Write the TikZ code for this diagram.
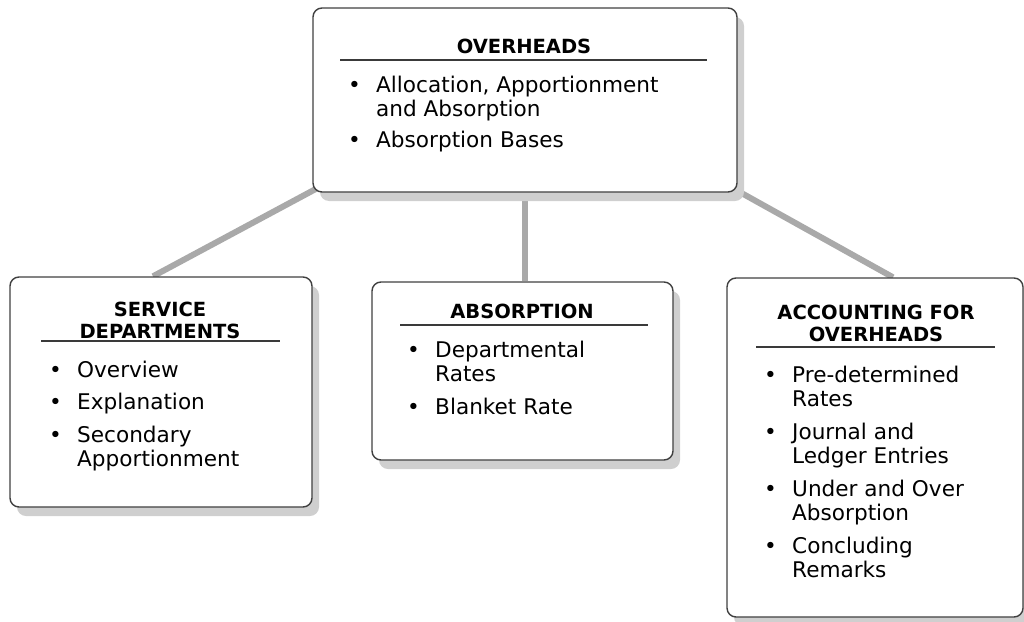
\documentclass[tikz,border=0pt]{standalone}
\usepackage{fontspec}
\setmainfont{DejaVu Sans}
\usetikzlibrary{positioning, shadows, backgrounds}
\usepackage{xcolor}
\definecolor{BoxBorder}{HTML}{404040}
\definecolor{LinkGrey}{HTML}{A9A9A9}
\definecolor{ShadeGrey}{HTML}{CFCFCF}
\definecolor{RuleGrey}{HTML}{3A3A3A}
\newcommand{\bl}{\makebox[28pt][l]{\textbullet}}
\newcommand{\ind}{\hspace*{28pt}}
\tikzset{
    % Box styles - rounded corners with shadow
    topicbox/.style={
        rectangle,
        rounded corners=9pt,
        draw=BoxBorder,
        fill=white,
        line width=1.4pt,
        inner sep=0pt,
        drop shadow={fill=ShadeGrey, opacity=1, shadow xshift=7pt, shadow yshift=-9pt}
    },
    % Text styles (anchored at the baseline of the last line)
    heading/.style={
        font=\fontsize{19.5}{21.5}\selectfont\bfseries,
        align=center,
        anchor=base,
        inner sep=0pt
    },
    points/.style={
        font=\fontsize{21.6}{24.5}\selectfont,
        align=left,
        anchor=base west,
        inner sep=0pt
    },
    % Line styles
    underline/.style={
        draw=RuleGrey,
        line width=1.3pt
    },
    link/.style={
        draw=LinkGrey,
        line width=6pt
    }
}
\begin{document}
\begin{tikzpicture}[x=1pt, y=-1pt]
    \useasboundingbox (0,0) rectangle (1024,621);

    \node[topicbox, minimum width=424pt, minimum height=184pt] (overheads) at (525,100) {};
    \node[topicbox, minimum width=302pt, minimum height=230pt] (service) at (161,392) {};
    \node[topicbox, minimum width=301pt, minimum height=178pt] (absorption) at (522.5,371) {};
    \node[topicbox, minimum width=296pt, minimum height=339pt] (accounting) at (875,447.5) {};

    \begin{scope}[on background layer]
        \draw[link] ([xshift=4pt,yshift=4pt]overheads.south west) -- ([xshift=-8pt]service.north);
        \draw[link] (overheads.south) -- (overheads.south |- absorption.north);
        \draw[link] ([xshift=-4pt,yshift=4pt]overheads.south east) -- ([xshift=18pt]accounting.north);
    \end{scope}

    % top box
    \node[heading] (overheads-title) at (524,53) {OVERHEADS};
    \draw[underline] (340,60) -- (707,60);
    \node[points] (overheads-list) at (348,147) {\bl Allocation, Apportionment\\ \ind and Absorption\\[6pt] \bl Absorption Bases};

    % left box
    \node[heading] (service-title) at (160,338) {SERVICE\\DEPARTMENTS};
    \draw[underline] (41,341) -- (280,341);
    \node[points] (service-list) at (49,466.5) {\bl Overview\\[8pt] \bl Explanation\\[8pt] \bl Secondary\\ \ind Apportionment};

    % middle box
    \node[heading] (absorption-title) at (522,318) {ABSORPTION};
    \draw[underline] (400,325) -- (648,325);
    \node[points] (absorption-list) at (407,414) {\bl Departmental\\ \ind Rates\\[8pt] \bl Blanket Rate};

    % right box
    \node[heading] (accounting-title) at (876,341) {ACCOUNTING FOR\\OVERHEADS};
    \draw[underline] (756,347) -- (995,347);
    \node[points] (accounting-list) at (764,577.5) {\bl Pre-determined\\ \ind Rates\\[8pt] \bl Journal and\\ \ind Ledger Entries\\[8pt] \bl Under and Over\\ \ind Absorption\\[8pt] \bl Concluding\\ \ind Remarks};
\end{tikzpicture}
\end{document}
